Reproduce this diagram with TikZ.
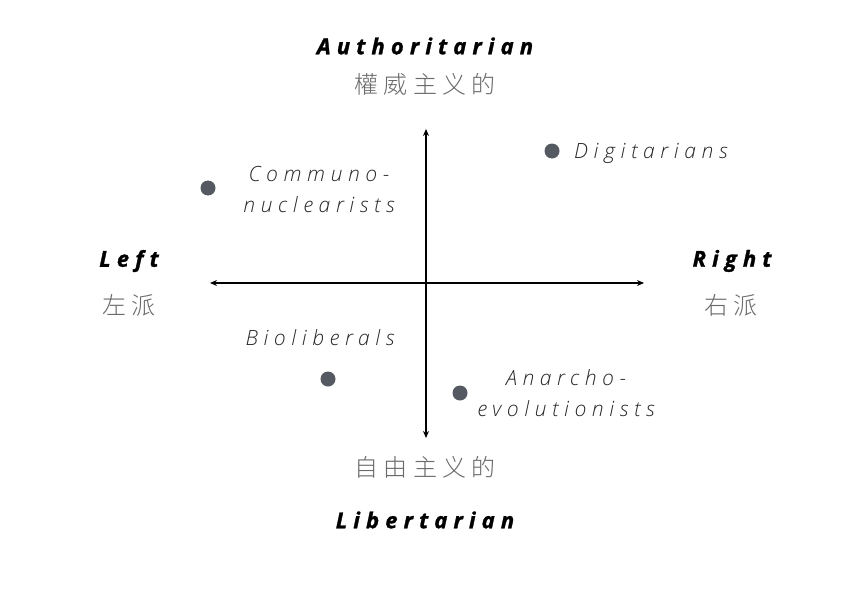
\documentclass[tikz,border=0pt]{standalone}
\usepackage{fontspec}
\usetikzlibrary{arrows.meta}
\IfFontExistsTF{Open Sans ExtraBold Italic}
  {\newfontfamily\headfont[LetterSpace=28]{Open Sans ExtraBold Italic}}
  {\newfontfamily\headfont[LetterSpace=28,FakeBold=1.3]{Open Sans Bold Italic}}
\IfFontExistsTF{Open Sans Light Italic}
  {\newfontfamily\itemfont[LetterSpace=27]{Open Sans Light Italic}}
  {\newfontfamily\itemfont[LetterSpace=27]{Open Sans Italic}}
\IfFontExistsTF{Noto Sans CJK SC Light}
  {\newfontfamily\cjk[LetterSpace=22]{Noto Sans CJK SC Light}}
  {\newfontfamily\cjk[LetterSpace=22]{Noto Sans CJK SC}}
\definecolor{dotgray}{HTML}{555A62}
\definecolor{cjkgray}{HTML}{6A6A6A}
\begin{document}
\begin{tikzpicture}[x=1pt,y=-1pt,
  head/.style={inner sep=0pt,font=\headfont\fontsize{22}{26}\selectfont,text=black},
  cjklabel/.style={inner sep=0pt,font=\cjk\fontsize{24}{28}\selectfont,text=cjkgray},
  item/.style={inner sep=0pt,font=\itemfont\fontsize{21}{31}\selectfont,text=black!85,align=center},
  dot/.style={circle,fill=dotgray,minimum size=15pt,inner sep=0pt},
  axis/.style={line width=1.3pt,-{Stealth[length=7pt,width=6pt]}}]
\useasboundingbox (0,0) rectangle (857,597);
% axes
\coordinate (c) at (426,283);
\coordinate (xl) at (210,283);
\coordinate (xr) at (644,283);
\coordinate (yt) at (426,129);
\coordinate (yb) at (426,438);
\draw[axis] (c) -- (xl);
\draw[axis] (c) -- (xr);
\draw[axis] (c) -- (yt);
\draw[axis] (c) -- (yb);
% axis labels
\node[head] (auth) at (425,46) {Authoritarian};
\node[cjklabel] (authc) at (425,84) {權威主义的};
\node[cjklabel] (libc) at (425,467) {自由主义的};
\node[head] (lib) at (425,520) {Libertarian};
\node[head] (left) at (129,261) {Left};
\node[cjklabel] (leftc) at (129,305) {左派};
\node[head] (right) at (732,261) {Right};
\node[cjklabel] (rightc) at (731,305) {右派};
% items
\node[dot] (d1) at (208,188) {};
\node[item] (t1) at (319,189) {Communo-\\nuclearists};
\node[dot] (d2) at (552,151) {};
\node[item,anchor=west] (t2) at (574,153) {Digitarians};
\node[dot] (d3) at (328,379) {};
\node[item] (t3) at (320,338) {Bioliberals};
\node[dot] (d4) at (460,393) {};
\node[item] (t4) at (566,393) {Anarcho-\\evolutionists};
\end{tikzpicture}
\end{document}
